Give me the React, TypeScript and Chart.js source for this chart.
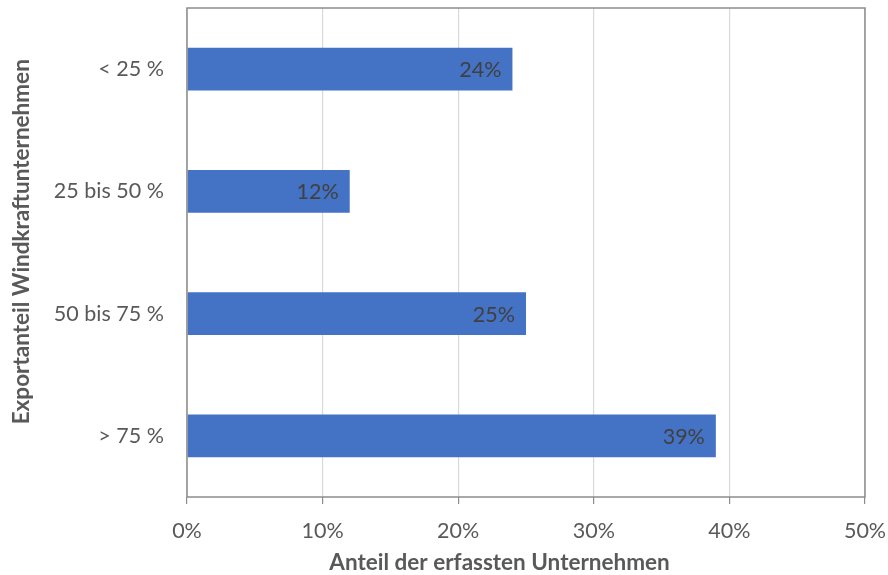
import React, { useEffect, useRef } from "react";
import { Chart, registerables } from "chart.js";

Chart.register(...registerables);

const categories = ["< 25 %", "25 bis 50 %", "50 bis 75 %", "> 75 %"];
const shares = [24, 12, 25, 39];
const xTicks = [0, 10, 20, 30, 40, 50];
const xTitle = "Anteil der erfassten Unternehmen";
const yTitle = "Exportanteil Windkraftunternehmen";

const FONT = "Lato, 'Liberation Sans', sans-serif";
const SIZE = 21.5;
const TITLE_SIZE = 22.5;

const framePlugin = {
  id: "frame",
  afterDraw(chart: any) {
    const { ctx, chartArea } = chart;
    ctx.save();
    ctx.strokeStyle = "#8c8c8c";
    ctx.lineWidth = 1.5;
    ctx.strokeRect(chartArea.left, chartArea.top, chartArea.right - chartArea.left, chartArea.bottom - chartArea.top);
    ctx.restore();
  },
};

const titlesPlugin = {
  id: "axisTitles",
  afterDraw(chart: any) {
    const { ctx, chartArea } = chart;
    ctx.save();
    ctx.font = `bold ${TITLE_SIZE}px ${FONT}`;
    ctx.fillStyle = "#595959";
    ctx.textAlign = "center";
    ctx.textBaseline = "middle";
    ctx.fillText(xTitle, chartArea.left + (chartArea.right - chartArea.left) * 0.461, chart.height - 12);
    ctx.translate(22, chartArea.top + (chartArea.bottom - chartArea.top) * 0.478);
    ctx.rotate(-Math.PI / 2);
    ctx.fillText(yTitle, 0, 0);
    ctx.restore();
  },
};

const labelPlugin = {
  id: "barLabels",
  afterDatasetsDraw(chart: any) {
    const { ctx } = chart;
    const meta = chart.getDatasetMeta(0);
    ctx.save();
    ctx.font = `${SIZE}px ${FONT}`;
    ctx.fillStyle = "#404040";
    ctx.textAlign = "right";
    ctx.textBaseline = "middle";
    meta.data.forEach((bar: any, i: number) => {
      ctx.fillText(`${shares[i]}%`, bar.x - 11, bar.y + 1);
    });
    ctx.restore();
  },
};

function zeroPad(scale: any) {
  scale.paddingTop = 0;
  scale.paddingBottom = 0;
  scale.paddingLeft = 0;
  scale.paddingRight = 0;
}

export default function App() {
  const ref = useRef<HTMLCanvasElement>(null);
  useEffect(() => {
    document.body.style.margin = "0";
    const chart = new Chart(ref.current!, {
      type: "bar",
      data: {
        labels: categories,
        datasets: [
          {
            data: shares,
            backgroundColor: "#4472C4",
            borderWidth: 0,
            categoryPercentage: 1,
            barPercentage: 0.35,
          },
        ],
      },
      options: {
        indexAxis: "y",
        animation: false,
        responsive: false,
        maintainAspectRatio: false,
        layout: { padding: { top: 8, right: 23, left: 0, bottom: 0 } },
        plugins: { legend: { display: false }, tooltip: { enabled: false } },
        scales: {
          x: {
            min: 0,
            max: 50,
            afterBuildTicks(scale: any) {
              scale.ticks = xTicks.map((v) => ({ value: v }));
            },
            afterFit(scale: any) {
              scale.height = 78;
              zeroPad(scale);
            },
            ticks: {
              callback: (v: any) => `${v}%`,
              color: "#595959",
              font: { family: FONT, size: SIZE },
              padding: 14,
              maxRotation: 0,
            },
            grid: {
              color: "#d9d9d9",
              lineWidth: 1.2,
              tickLength: 7,
              tickColor: "#8c8c8c",
            },
            border: { display: false },
            title: { display: false },
          },
          y: {
            afterFit(scale: any) {
              scale.width = 187;
              zeroPad(scale);
            },
            ticks: {
              color: "#595959",
              font: { family: FONT, size: SIZE },
              padding: 23,
            },
            grid: { display: false, tickLength: 0 },
            border: { display: false },
            title: { display: false },
          },
        },
      },
      plugins: [framePlugin, labelPlugin, titlesPlugin],
    });
    return () => chart.destroy();
  }, []);
  return (
    <div style={{ width: 888, height: 575 }}>
      <canvas ref={ref} width={888} height={575} style={{ display: "block" }} />
    </div>
  );
}
